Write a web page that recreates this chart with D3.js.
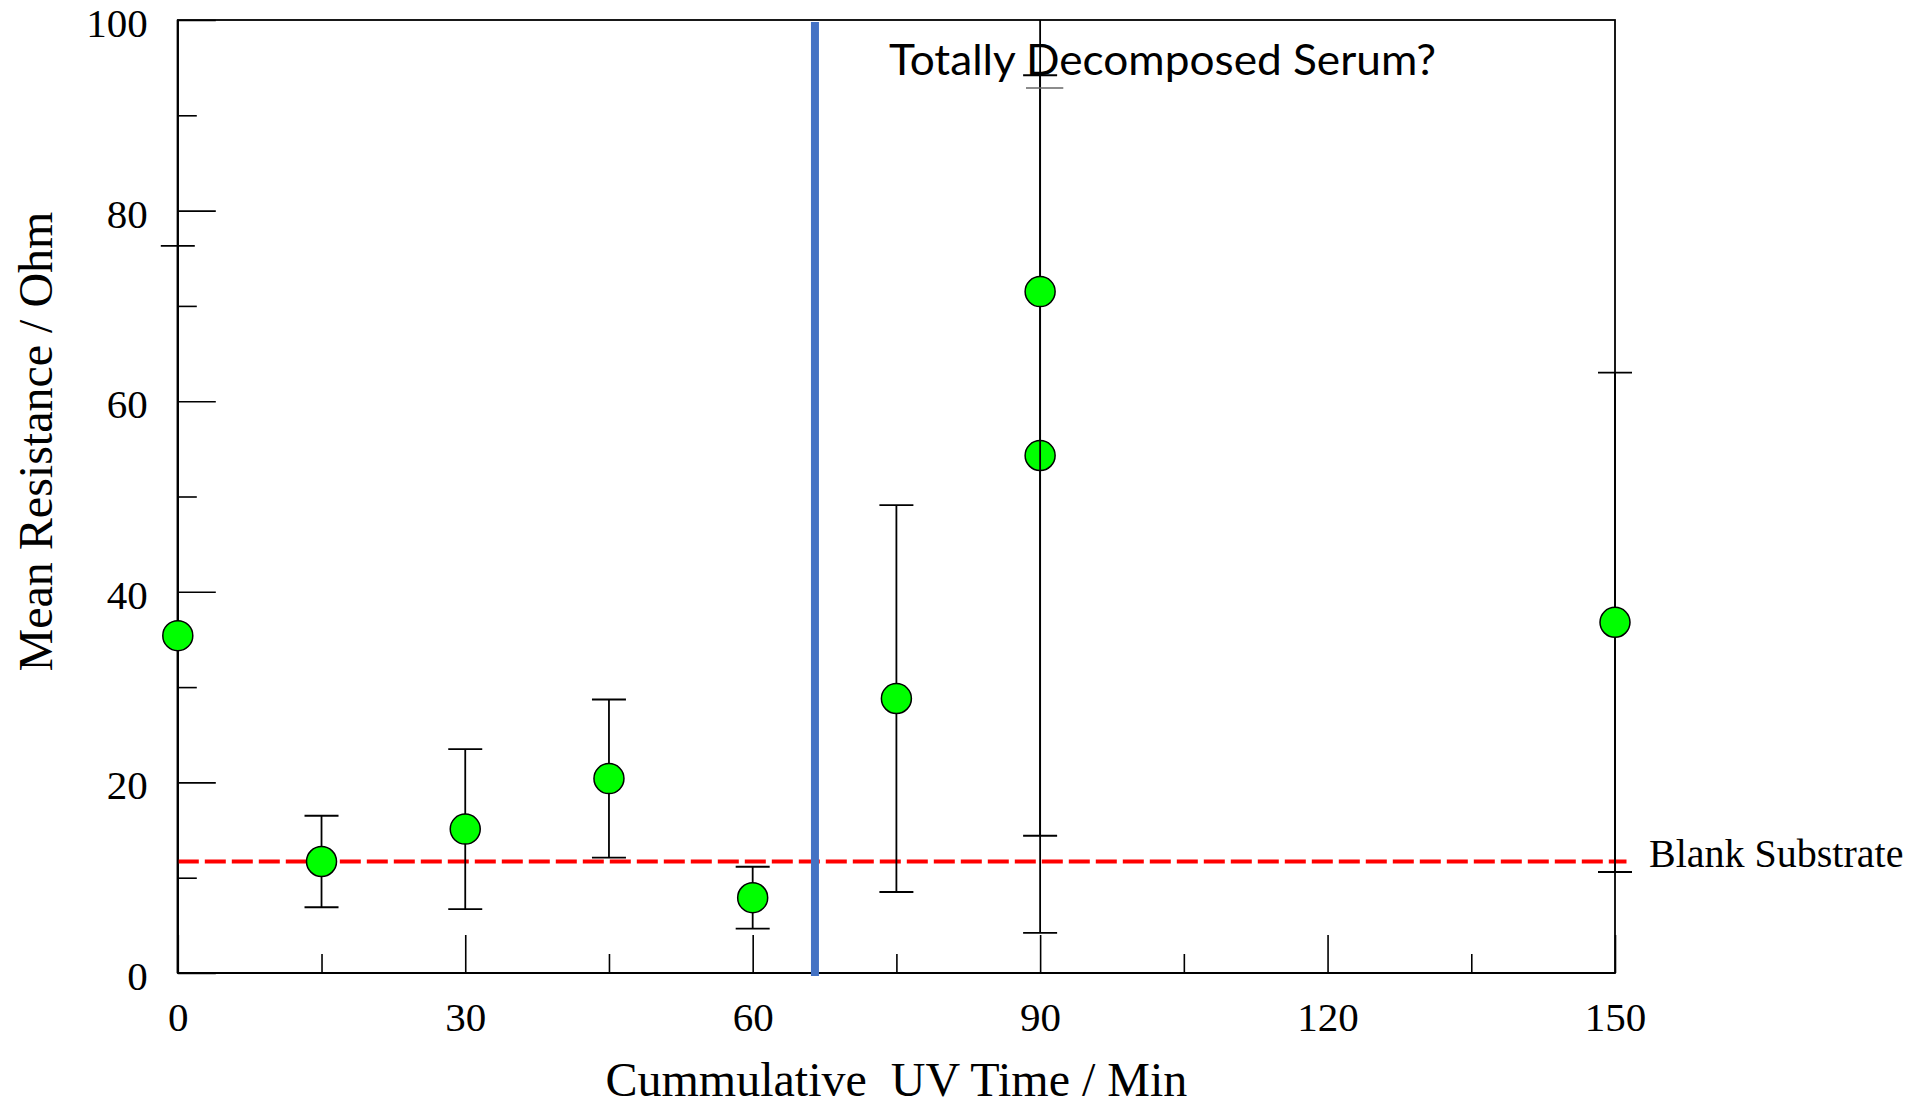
<!DOCTYPE html>
<html>
<head>
<meta charset="utf-8">
<script src="https://cdn.jsdelivr.net/npm/d3@7"></script>
<style>
  html, body { margin: 0; padding: 0; background: #ffffff; }
  svg { display: block; }
</style>
</head>
<body>
<svg id="chart" width="1910" height="1107"></svg>
<script>
// ---- data ----
const times  = [0, 15, 30, 45, 60, 75, 90, 90, 150];          // Cumulative UV time / min
const means  = [35.4, 11.7, 15.1, 20.4, 7.9, 28.8, 54.3, 71.5, 36.8]; // Mean resistance / Ohm
const errors = [40.9, 4.8, 8.4, 8.3, 3.25, 20.3, 39.9, 67.3, 26.2];   // +/- error
const xMajorTicks = [0, 30, 60, 90, 120, 150];
const xMinorTicks = [15, 45, 75, 105, 135];
const yMajorTicks = [0, 20, 40, 60, 80, 100];
const yMinorTicks = [10, 30, 50, 70, 90];
const blankSubstrate = 11.7;          // red dashed reference level
const blankExtent = [0, 151.2];       // x-range of the dashed line
const markerTime = 66.5;              // blue vertical divider
const xDomain = [0, 150];
const yDomain = [0, 100];
const xTitle = "Cummulative  UV Time / Min";
const yTitle = "Mean Resistance / Ohm";
const blankLabel = "Blank Substrate";
const noteText = "Totally Decomposed Serum?";
const noteUnderlinedChar = 8;         // the "D"

// ---- layout ----
const L = 177.8, R = 1615, T = 20, B = 973;
const svg = d3.select("#chart");
const serif = "'Liberation Serif', 'Times New Roman', 'DejaVu Serif', serif";

const x = d3.scaleLinear().domain(xDomain).range([L, R]);
const y = d3.scaleLinear().domain(yDomain).range([B, T]);

// Frame
svg.append("rect")
  .attr("x", L).attr("y", T).attr("width", R - L).attr("height", B - T)
  .attr("fill", "none").attr("stroke", "#000").attr("stroke-width", 1.8);

// Y axis (major with labels, minor without)
const yAxisMajor = d3.axisLeft(y).tickValues(yMajorTicks).tickFormat(d3.format("d"))
  .tickSizeInner(-38).tickSizeOuter(0).tickPadding(30);
const gy = svg.append("g").attr("transform", `translate(${L},0)`).call(yAxisMajor);
const yAxisMinor = d3.axisLeft(y).tickValues(yMinorTicks).tickFormat("")
  .tickSizeInner(-19).tickSizeOuter(0);
const gy2 = svg.append("g").attr("transform", `translate(${L},0)`).call(yAxisMinor);

// X axis
const xAxisMajor = d3.axisBottom(x).tickValues(xMajorTicks).tickFormat(d3.format("d"))
  .tickSizeInner(-38).tickSizeOuter(0).tickPadding(29);
const gx = svg.append("g").attr("transform", `translate(0,${B})`).call(xAxisMajor);
const xAxisMinor = d3.axisBottom(x).tickValues(xMinorTicks).tickFormat("")
  .tickSizeInner(-19).tickSizeOuter(0);
const gx2 = svg.append("g").attr("transform", `translate(0,${B})`).call(xAxisMinor);

[gy, gy2, gx, gx2].forEach(g => {
  g.select(".domain").remove();
  g.selectAll(".tick line").attr("stroke", "#000").attr("stroke-width", 1.6);
  g.selectAll(".tick text").attr("fill", "#000")
    .style("font-family", serif).style("font-size", "41px");
});
gy.selectAll(".tick text").attr("dy", "0.4em");

// stronger left/bottom axis lines
svg.append("line").attr("x1", L).attr("x2", L).attr("y1", T).attr("y2", B)
  .attr("stroke", "#000").attr("stroke-width", 2.2);
svg.append("line").attr("x1", L).attr("x2", R).attr("y1", B).attr("y2", B)
  .attr("stroke", "#000").attr("stroke-width", 2.2);

// Red dashed blank substrate line
svg.append("line")
  .attr("x1", x(blankExtent[0])).attr("x2", x(blankExtent[1]))
  .attr("y1", y(blankSubstrate)).attr("y2", y(blankSubstrate))
  .attr("stroke", "#ff0000").attr("stroke-width", 4.2)
  .attr("stroke-dasharray", "21,6");

// Blue divider
svg.append("line")
  .attr("x1", x(markerTime)).attr("x2", x(markerTime))
  .attr("y1", y(yDomain[1]) + 2).attr("y2", y(yDomain[0]) + 3)
  .attr("stroke", "#4472C4").attr("stroke-width", 8);

// Points with error bars
const data = times.map((t, i) => ({ t, m: means[i], e: errors[i] }));
const cap = 17;
const pts = svg.append("g");
data.forEach(d => {
  const g = pts.append("g");
  const hi = d.m + d.e, lo = d.m - d.e;
  const yHi = y(Math.min(yDomain[1], hi)), yLo = y(Math.max(yDomain[0], lo));
  g.append("line").attr("x1", x(d.t)).attr("x2", x(d.t)).attr("y1", yHi).attr("y2", yLo)
    .attr("stroke", "#000").attr("stroke-width", 1.8);
  [hi, lo].forEach(v => {
    if (v <= yDomain[1] && v >= yDomain[0]) {
      g.append("line").attr("x1", x(d.t) - cap).attr("x2", x(d.t) + cap)
        .attr("y1", y(v)).attr("y2", y(v))
        .attr("stroke", "#000").attr("stroke-width", 1.8);
    }
  });
  g.append("circle").attr("cx", x(d.t)).attr("cy", y(d.m)).attr("r", 15)
    .attr("fill", "#00ff00").attr("stroke", "#000").attr("stroke-width", 1.5);
});

// Axis titles
svg.append("text")
  .attr("x", (L + R) / 2).attr("y", 1096)
  .attr("text-anchor", "middle")
  .style("font-family", serif).style("font-size", "48px").style("white-space", "pre")
  .attr("fill", "#000")
  .text(xTitle);

svg.append("text")
  .attr("transform", `translate(52,${(210 + 673) / 2}) rotate(-90)`)
  .attr("text-anchor", "middle")
  .style("font-family", serif).style("font-size", "48px")
  .attr("fill", "#000")
  .text(yTitle);

// Blank substrate label
svg.append("text")
  .attr("x", 1649).attr("y", 867)
  .style("font-family", serif).style("font-size", "40px")
  .attr("fill", "#000")
  .text(blankLabel);

// Annotation
const noteY = 75;
const note = svg.append("text")
  .attr("x", 889).attr("y", noteY)
  .style("font-family", "Lato, 'Open Sans', 'Noto Sans', sans-serif").style("font-size", "42px")
  .attr("fill", "#000")
  .style("white-space", "pre")
  .attr("textLength", 547).attr("lengthAdjust", "spacingAndGlyphs")
  .text(noteText);
// grey underline beneath the "D", positioned from the glyph itself
const n = note.node();
const p0 = n.getStartPositionOfChar(noteUnderlinedChar);
const p1 = n.getEndPositionOfChar(noteUnderlinedChar);
svg.append("line")
  .attr("x1", p0.x).attr("x2", p1.x + 4)
  .attr("y1", noteY + 13).attr("y2", noteY + 13)
  .attr("stroke", "#666").attr("stroke-width", 1.5);
</script>
</body>
</html>
